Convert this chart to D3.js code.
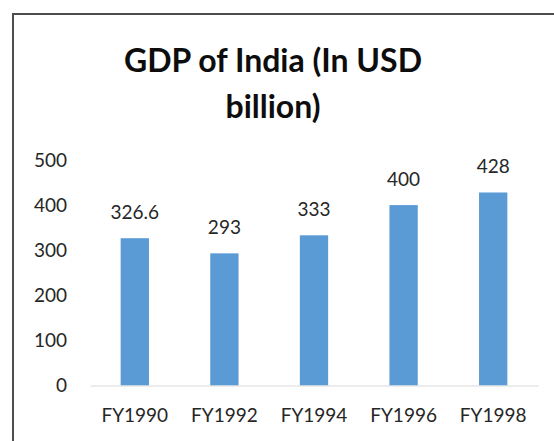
<!DOCTYPE html>
<html>
<head>
<meta charset="utf-8">
<script src="https://cdn.jsdelivr.net/npm/d3@7"></script>
<style>
  html, body { margin: 0; padding: 0; background: #fff; }
  svg { display: block; }
</style>
</head>
<body>
<svg id="chart" width="554" height="441"></svg>
<script>
// GDP of India, USD billion, by fiscal year
const categories = ["FY1990", "FY1992", "FY1994", "FY1996", "FY1998"];
const gdpValues = [326.6, 293, 333, 400, 428];
const valueLabels = ["326.6", "293", "333", "400", "428"];
const yTicks = [0, 100, 200, 300, 400, 500];
const titleLines = ["GDP of India (In USD", "billion)"];

const FONT = "Lato, 'Open Sans', sans-serif";
const TEXT_COLOR = "#262626";
const LABEL_SIZE = 19;
const svg = d3.select("#chart");

// chart frame (runs past the right and bottom edges)
svg.append("rect")
  .attr("x", 13).attr("y", 14)
  .attr("width", 700).attr("height", 600)
  .attr("fill", "none")
  .attr("stroke", "#4d4d4d")
  .attr("stroke-width", 2);

// title
svg.append("g").selectAll("text")
  .data(titleLines)
  .join("text")
  .attr("x", 273)
  .attr("y", (d, i) => 72 + i * 46)
  .attr("text-anchor", "middle")
  .attr("font-family", FONT)
  .attr("font-weight", 700)
  .attr("font-size", 32)
  .attr("fill", "#0d0d0d")
  .text(d => d);

const plot = { left: 90, right: 538, top: 160, bottom: 385.5 };

const x = d3.scaleBand()
  .domain(categories)
  .range([plot.left, plot.right])
  .paddingInner(0.684)
  .paddingOuter(0.342);

const y = d3.scaleLinear()
  .domain([0, 500])
  .range([plot.bottom, plot.top]);

// y axis tick labels (no axis line)
const yAxis = svg.append("g")
  .attr("transform", `translate(${plot.left},0)`)
  .call(d3.axisLeft(y).tickValues(yTicks).tickSize(0).tickPadding(23));
yAxis.select(".domain").remove();
yAxis.selectAll("text")
  .attr("font-family", FONT)
  .attr("font-size", LABEL_SIZE)
  .attr("fill", TEXT_COLOR);

// bars
svg.append("g").selectAll("rect")
  .data(gdpValues)
  .join("rect")
  .attr("x", (d, i) => x(categories[i]))
  .attr("y", d => y(d))
  .attr("width", x.bandwidth())
  .attr("height", d => y(0) - y(d))
  .attr("fill", "#5b9bd5");

// baseline and category labels
const xAxis = svg.append("g")
  .attr("transform", `translate(0,${plot.bottom})`)
  .call(d3.axisBottom(x).tickSize(0).tickPadding(23));
xAxis.select(".domain")
  .attr("stroke", "#d9d9d9")
  .attr("stroke-width", 1);
xAxis.selectAll("text")
  .attr("font-family", FONT)
  .attr("font-size", LABEL_SIZE)
  .attr("fill", TEXT_COLOR);

// value labels above bars
svg.append("g").selectAll("text")
  .data(gdpValues)
  .join("text")
  .attr("x", (d, i) => x(categories[i]) + x.bandwidth() / 2)
  .attr("y", d => y(d) - 19)
  .attr("text-anchor", "middle")
  .attr("font-family", FONT)
  .attr("font-size", LABEL_SIZE)
  .attr("fill", TEXT_COLOR)
  .text((d, i) => valueLabels[i]);
</script>
</body>
</html>
